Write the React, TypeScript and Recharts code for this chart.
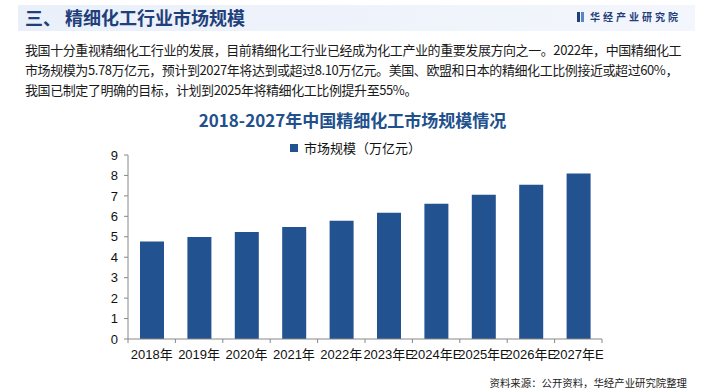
import React from "react";
import { BarChart, Bar, XAxis, YAxis, Legend } from "recharts";

const categories = ["2018年", "2019年", "2020年", "2021年", "2022年", "2023年E", "2024年E", "2025年E", "2026年E", "2027年E"];
const marketSize = [4.77, 4.99, 5.23, 5.48, 5.78, 6.17, 6.62, 7.05, 7.55, 8.1];
const yTicks = [0, 1, 2, 3, 4, 5, 6, 7, 8, 9];
const seriesName = "市场规模（万亿元）";
const pageTitle = "三、 精细化工行业市场规模";
const chartTitle = "2018-2027年中国精细化工市场规模情况";
const brand = "华经产业研究院";
const paragraph = [
  "我国十分重视精细化工行业的发展，目前精细化工行业已经成为化工产业的重要发展方向之一。2022年，中国精细化工",
  "市场规模为5.78万亿元，预计到2027年将达到或超过8.10万亿元。美国、欧盟和日本的精细化工比例接近或超过60%，",
  "我国已制定了明确的目标，计划到2025年将精细化工比例提升至55%。",
];
const sourceText = "资料来源：公开资料，华经产业研究院整理";

const data = categories.map((c, i) => ({ name: c, value: marketSize[i] }));

const BAR = "#22528F";
const DARK = "#1F3F7A";
const FONT = "'Liberation Sans', Arial, 'Noto Sans CJK SC', sans-serif";
const CJK = "'Noto Sans CJK SC', 'Liberation Sans', sans-serif";

const XTick = (props: any) => {
  const { x, y, payload } = props;
  const half = payload && payload.offset ? payload.offset : 23.7;
  return (
    <g>
      <line x1={x - half} y1={y - 8} x2={x - half} y2={y - 4} stroke="#888" />
      {payload.index === categories.length - 1 ? (
        <line x1={x + half} y1={y - 8} x2={x + half} y2={y - 4} stroke="#888" />
      ) : null}
      <text x={x} y={y + 12} textAnchor="middle" fontSize={13} fill="#111" fontFamily={FONT}>
        {payload.value}
      </text>
    </g>
  );
};

const LegendContent = () => (
  <div style={{ display: "flex", alignItems: "center", fontFamily: CJK, fontSize: 13, color: "#111", whiteSpace: "nowrap" }}>
    <span style={{ display: "inline-block", width: 8, height: 8, background: BAR, marginRight: 6 }} />
    <span>{seriesName}</span>
  </div>
);

export default function App() {
  return (
    <div style={{ position: "absolute", left: 0, top: 0, width: 705, height: 392, background: "#fff", overflow: "hidden" }}>
      <div style={{ position: "absolute", left: 18, top: 5, width: 677, height: 26, background: "linear-gradient(90deg,#EAF0FA,#F3F6FC)" }} />
      <div style={{ position: "absolute", left: 25, top: 5, height: 25, lineHeight: "25px", fontFamily: CJK, fontWeight: 700, fontSize: 18, color: DARK, whiteSpace: "nowrap" }}>
        {pageTitle}
      </div>
      <div style={{ position: "absolute", left: 577, top: 12, width: 3, height: 10, background: DARK }} />
      <div style={{ position: "absolute", left: 581, top: 12, width: 3, height: 10, background: "#5b86c4" }} />
      <div style={{ position: "absolute", left: 590, top: 9, lineHeight: "16px", fontFamily: CJK, fontWeight: 700, fontSize: 10, letterSpacing: 3, color: DARK, whiteSpace: "nowrap" }}>
        {brand}
      </div>
      {paragraph.map((line, i) => (
        <div
          key={i}
          style={{ position: "absolute", left: 25, top: 40 + i * 20, lineHeight: "20px", fontFamily: CJK, fontSize: 13, color: "#1a1a1a", whiteSpace: "nowrap", letterSpacing: -0.42 }}
        >
          {line}
        </div>
      ))}
      <div style={{ position: "absolute", left: 0, width: 705, top: 108, lineHeight: "24px", textAlign: "center", fontFamily: CJK, fontWeight: 700, fontSize: 17, color: "#22508C" }}>
        {chartTitle}
      </div>
      <div style={{ position: "absolute", left: 0, top: 0 }}>
        <BarChart width={705} height={392} data={data} margin={{ top: 155, right: 103, bottom: 23, left: 0 }} barCategoryGap={0}>
          <YAxis
            width={128}
            domain={[0, 9]}
            ticks={yTicks}
            interval={0}
            axisLine={{ stroke: "#888" }}
            tickLine={{ stroke: "#888" }}
            tickSize={4}
            tickMargin={6}
            tick={{ fontSize: 13, fill: "#111", fontFamily: FONT }}
          />
          <XAxis
            dataKey="name"
            height={30}
            interval={0}
            axisLine={{ stroke: "#888" }}
            tickLine={false}
            tick={<XTick />}
          />
          <Legend
            layout="horizontal"
            verticalAlign="middle"
            align="center"
            wrapperStyle={{ position: "absolute", left: 290, top: 138, width: 140, height: 20 }}
            content={<LegendContent />}
          />
          <Bar dataKey="value" name={seriesName} fill={BAR} barSize={24} isAnimationActive={false} />
        </BarChart>
      </div>
      <div style={{ position: "absolute", right: 18, top: 375, height: 16, lineHeight: "16px", fontFamily: CJK, fontSize: 10.4, color: "#222", whiteSpace: "nowrap" }}>
        {sourceText}
      </div>
    </div>
  );
}
